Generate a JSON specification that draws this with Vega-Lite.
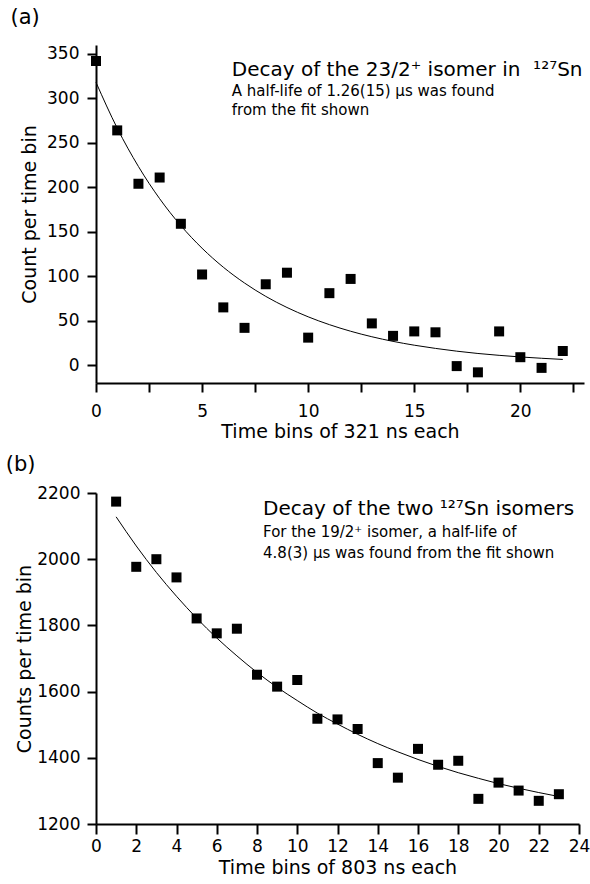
{
  "$schema": "https://vega.github.io/schema/vega-lite/v6.json",
  "background": "white",
  "padding": {"left": 5, "top": 6, "right": 0, "bottom": 0},
  "spacing": 13,
  "config": {
    "font": "DejaVu Sans",
    "view": {"stroke": null},
    "axis": {
      "domainColor": "black", "domainWidth": 2, "tickColor": "black", "tickWidth": 2,
      "labelFont": "DejaVu Sans", "labelFontSize": 17, "labelColor": "black",
      "titleFont": "DejaVu Sans", "titleFontSize": 19, "titleFontWeight": "normal", "titleColor": "black",
      "grid": false, "labelOverlap": false, "labelFlush": false, "labelBound": false
    },
    "title": {"font": "DejaVu Sans", "fontSize": 21, "fontWeight": "normal", "anchor": "start", "frame": "bounds", "color": "black", "dx": -10}
  },
  "datasets": {
    "pointsA": [
      {"bin": 0, "count": 342}, {"bin": 1, "count": 264}, {"bin": 2, "count": 204}, {"bin": 3, "count": 211},
      {"bin": 4, "count": 159}, {"bin": 5, "count": 102}, {"bin": 6, "count": 65}, {"bin": 7, "count": 42},
      {"bin": 8, "count": 91}, {"bin": 9, "count": 104}, {"bin": 10, "count": 31}, {"bin": 11, "count": 81},
      {"bin": 12, "count": 97}, {"bin": 13, "count": 47}, {"bin": 14, "count": 33}, {"bin": 15, "count": 38},
      {"bin": 16, "count": 37}, {"bin": 17, "count": -1}, {"bin": 18, "count": -8}, {"bin": 19, "count": 38},
      {"bin": 20, "count": 9}, {"bin": 21, "count": -3}, {"bin": 22, "count": 16}
    ],
    "fitA": [
      {"bin": 0, "count": 318}, {"bin": 1, "count": 266.5}, {"bin": 2, "count": 223.4}, {"bin": 3, "count": 187.2},
      {"bin": 4, "count": 156.9}, {"bin": 5, "count": 131.5}, {"bin": 6, "count": 110.2}, {"bin": 7, "count": 92.4},
      {"bin": 8, "count": 77.4}, {"bin": 9, "count": 64.9}, {"bin": 10, "count": 54.4}, {"bin": 11, "count": 45.6},
      {"bin": 12, "count": 38.2}, {"bin": 13, "count": 32.0}, {"bin": 14, "count": 26.8}, {"bin": 15, "count": 22.5},
      {"bin": 16, "count": 18.9}, {"bin": 17, "count": 15.8}, {"bin": 18, "count": 13.2}, {"bin": 19, "count": 11.1},
      {"bin": 20, "count": 9.3}, {"bin": 21, "count": 7.8}, {"bin": 22, "count": 6.5}
    ],
    "titleA": [{"bin": 6.4, "count": 325, "text": "Decay of the 23/2⁺ isomer in \u00a0¹²⁷Sn"}],
    "subA": [
      {"bin": 6.4, "count": 303, "text": "A half-life of 1.26(15) μs was found"},
      {"bin": 6.4, "count": 281, "text": "from the fit shown"}
    ],
    "pointsB": [
      {"bin": 1, "count": 2174}, {"bin": 2, "count": 1977}, {"bin": 3, "count": 2000}, {"bin": 4, "count": 1945},
      {"bin": 5, "count": 1821}, {"bin": 6, "count": 1776}, {"bin": 7, "count": 1790}, {"bin": 8, "count": 1651},
      {"bin": 9, "count": 1615}, {"bin": 10, "count": 1635}, {"bin": 11, "count": 1518}, {"bin": 12, "count": 1516},
      {"bin": 13, "count": 1487}, {"bin": 14, "count": 1384}, {"bin": 15, "count": 1340}, {"bin": 16, "count": 1427},
      {"bin": 17, "count": 1379}, {"bin": 18, "count": 1391}, {"bin": 19, "count": 1276}, {"bin": 20, "count": 1325},
      {"bin": 21, "count": 1301}, {"bin": 22, "count": 1270}, {"bin": 23, "count": 1290}
    ],
    "fitB": [
      {"bin": 1, "count": 2128}, {"bin": 2, "count": 2040}, {"bin": 3, "count": 1960}, {"bin": 4, "count": 1888},
      {"bin": 5, "count": 1822}, {"bin": 6, "count": 1762}, {"bin": 7, "count": 1708}, {"bin": 8, "count": 1658},
      {"bin": 9, "count": 1613}, {"bin": 10, "count": 1573}, {"bin": 11, "count": 1535}, {"bin": 12, "count": 1502},
      {"bin": 13, "count": 1471}, {"bin": 14, "count": 1443}, {"bin": 15, "count": 1418}, {"bin": 16, "count": 1395},
      {"bin": 17, "count": 1374}, {"bin": 18, "count": 1355}, {"bin": 19, "count": 1338}, {"bin": 20, "count": 1322},
      {"bin": 21, "count": 1308}, {"bin": 22, "count": 1295}, {"bin": 23, "count": 1283}
    ],
    "titleB": [{"bin": 8.3, "count": 2133, "text": "Decay of the two ¹²⁷Sn isomers"}],
    "subB": [
      {"bin": 8.3, "count": 2067, "text": "For the 19/2⁺ isomer, a half-life of"},
      {"bin": 8.3, "count": 2005, "text": "4.8(3) μs was found from the fit shown"}
    ]
  },
  "vconcat": [
    {
      "title": {"text": "(a)", "offset": 17},
      "width": 488,
      "height": 338,
      "layer": [
        {
          "data": {"name": "fitA"},
          "mark": {"type": "line", "color": "black", "strokeWidth": 1, "interpolate": "monotone"},
          "encoding": {
            "x": {"field": "bin", "type": "quantitative",
              "scale": {"domain": [0, 23], "nice": false, "zero": false},
              "axis": {"title": "Time bins of 321 ns each",
                "values": [0, 2.5, 5, 7.5, 10, 12.5, 15, 17.5, 20, 22.5],
                "labelExpr": "datum.value % 5 === 0 ? datum.label : ''",
                "tickSize": 9, "labelPadding": 11, "titlePadding": 3,
                "encode": {"ticks": {"update": {"y2": {"signal": "datum.value % 5 === 0 ? 9 : 5"}}}}}},
            "y": {"field": "count", "type": "quantitative",
              "scale": {"domain": [-20, 360], "nice": false, "zero": false},
              "axis": {"title": "Count per time bin",
                "values": [0, 25, 50, 75, 100, 125, 150, 175, 200, 225, 250, 275, 300, 325, 350],
                "labelExpr": "datum.value % 50 === 0 ? datum.label : ''",
                "tickSize": 9, "labelPadding": 8, "titlePadding": 7,
                "encode": {"ticks": {"update": {"x2": {"signal": "datum.value % 50 === 0 ? -9 : -5"}}}}}}
          }
        },
        {
          "data": {"name": "pointsA"},
          "mark": {"type": "point", "shape": "square", "filled": true, "size": 100, "color": "black", "opacity": 1},
          "encoding": {
            "x": {"field": "bin", "type": "quantitative"},
            "y": {"field": "count", "type": "quantitative"}
          }
        },
        {
          "data": {"name": "titleA"},
          "mark": {"type": "text", "align": "left", "baseline": "alphabetic", "fontSize": 20, "color": "black"},
          "encoding": {
            "x": {"field": "bin", "type": "quantitative"},
            "y": {"field": "count", "type": "quantitative"},
            "text": {"field": "text"}
          }
        },
        {
          "data": {"name": "subA"},
          "mark": {"type": "text", "align": "left", "baseline": "alphabetic", "fontSize": 15, "color": "black"},
          "encoding": {
            "x": {"field": "bin", "type": "quantitative"},
            "y": {"field": "count", "type": "quantitative"},
            "text": {"field": "text"}
          }
        }
      ]
    },
    {
      "title": {"text": "(b)", "offset": 9},
      "width": 483,
      "height": 331,
      "layer": [
        {
          "data": {"name": "fitB"},
          "mark": {"type": "line", "color": "black", "strokeWidth": 1, "interpolate": "monotone"},
          "encoding": {
            "x": {"field": "bin", "type": "quantitative",
              "scale": {"domain": [0, 24], "nice": false, "zero": false},
              "axis": {"title": "Time bins of 803 ns each",
                "values": [0, 1, 2, 3, 4, 5, 6, 7, 8, 9, 10, 11, 12, 13, 14, 15, 16, 17, 18, 19, 20, 21, 22, 23, 24],
                "labelExpr": "datum.value % 2 === 0 ? datum.label : ''",
                "tickSize": 10, "labelPadding": 4, "titlePadding": 4,
                "encode": {"ticks": {"update": {"y2": {"signal": "datum.value % 2 === 0 ? 10 : 5"}}}}}},
            "y": {"field": "count", "type": "quantitative",
              "scale": {"domain": [1200, 2200], "nice": false, "zero": false},
              "axis": {"title": "Counts per time bin",
                "values": [1200, 1300, 1400, 1500, 1600, 1700, 1800, 1900, 2000, 2100, 2200],
                "labelExpr": "datum.value % 200 === 0 ? datum.label : ''",
                "format": "d",
                "tickSize": 9, "labelPadding": 7, "titlePadding": 2,
                "encode": {"ticks": {"update": {"x2": {"signal": "datum.value % 200 === 0 ? -9 : -5"}}}}}}
          }
        },
        {
          "data": {"name": "pointsB"},
          "mark": {"type": "point", "shape": "square", "filled": true, "size": 100, "color": "black", "opacity": 1},
          "encoding": {
            "x": {"field": "bin", "type": "quantitative"},
            "y": {"field": "count", "type": "quantitative"}
          }
        },
        {
          "data": {"name": "titleB"},
          "mark": {"type": "text", "align": "left", "baseline": "alphabetic", "fontSize": 20, "color": "black"},
          "encoding": {
            "x": {"field": "bin", "type": "quantitative"},
            "y": {"field": "count", "type": "quantitative"},
            "text": {"field": "text"}
          }
        },
        {
          "data": {"name": "subB"},
          "mark": {"type": "text", "align": "left", "baseline": "alphabetic", "fontSize": 15, "color": "black"},
          "encoding": {
            "x": {"field": "bin", "type": "quantitative"},
            "y": {"field": "count", "type": "quantitative"},
            "text": {"field": "text"}
          }
        }
      ]
    }
  ]
}
